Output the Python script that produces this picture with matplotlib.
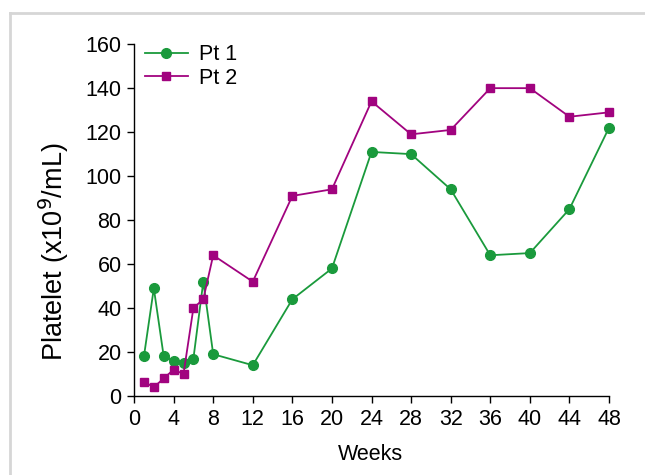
import matplotlib.pyplot as plt
from matplotlib.lines import Line2D

plt.rcParams['font.family'] = ['Liberation Sans', 'DejaVu Sans']

weeks = [1, 2, 3, 4, 5, 6, 7, 8, 12, 16, 20, 24, 28, 32, 36, 40, 44, 48]
pt1 = [18, 49, 18, 16, 15, 17, 52, 19, 14, 44, 58, 111, 110, 94, 64, 65, 85, 122]
pt2 = [6.5, 4, 8, 12, 10, 40, 44, 64, 52, 91, 94, 134, 119, 121, 140, 140, 127, 129]
xticks = list(range(0, 49, 4))
yticks = list(range(0, 161, 20))

green = '#1a9a3c'
purple = '#a1037f'

fig = plt.figure(figsize=(6.45, 4.75), dpi=100)
ax = fig.add_axes([0.2078, 0.1663, 0.7364, 0.7407])

# light gray frame: top and left edges only
y_top = 1 - 13 / 475
x_left = 10 / 645
fig.add_artist(Line2D([x_left, 1.0], [y_top, y_top], transform=fig.transFigure,
                      color='#d6d6d6', lw=2))
fig.add_artist(Line2D([x_left, x_left], [0.0, y_top], transform=fig.transFigure,
                      color='#d6d6d6', lw=2))

ax.plot(weeks, pt1, color=green, marker='o', markersize=7, lw=1.3, label='Pt 1', clip_on=False)
ax.plot(weeks, pt2, color=purple, marker='s', markersize=5.8, lw=1.3, label='Pt 2', clip_on=False)

ax.set_xlim(0, 48)
ax.set_ylim(0, 160)
ax.set_xticks(xticks)
ax.set_yticks(yticks)
ax.tick_params(labelsize=15.5, length=5, width=1, direction='out', colors='black', pad=4)
for s in ['top', 'right']:
    ax.spines[s].set_visible(False)
for s in ['left', 'bottom']:
    ax.spines[s].set_linewidth(1)

ax.set_xlabel('Weeks', fontsize=15.5)
ax.xaxis.set_label_coords(0.497, -0.135)
ax.set_ylabel('Platelet (x10$^{9}$/mL)', fontsize=19.5)
ax.yaxis.set_label_coords(-0.133, 0.41)

ax.legend(loc='upper left', frameon=False, fontsize=15.5, handlelength=2.0,
          handletextpad=0.5, borderaxespad=0.1, labelspacing=0.1,
          bbox_to_anchor=(0.0, 1.03))

fig.savefig('out.png', dpi=100)
